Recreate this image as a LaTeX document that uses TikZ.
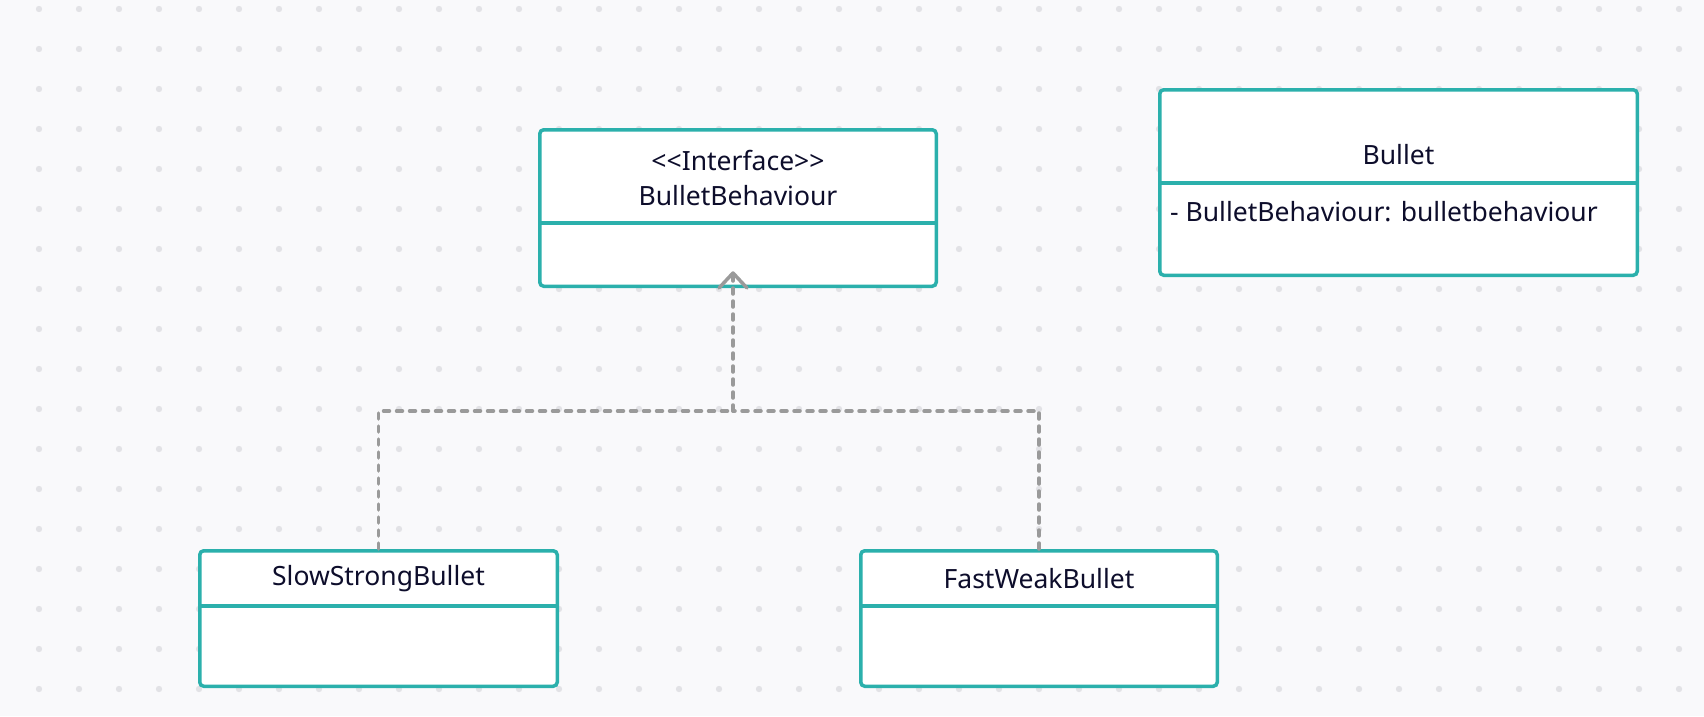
\documentclass[tikz,border=0pt]{standalone}
\usepackage{fontspec}
\setmainfont{Noto Sans}
\usetikzlibrary{arrows.meta}
\definecolor{bgcol}{HTML}{F9F9FB}
\definecolor{dotcol}{HTML}{E2E2E6}
\definecolor{teal}{HTML}{2BB0AC}
\definecolor{txt}{HTML}{0D0D2B}
\definecolor{conn}{HTML}{9A9A9A}
\tikzset{
  classbox/.style={draw=teal, fill=white, line width=3.5pt, rounded corners=4pt, inner sep=0pt},
  divider/.style={draw=teal, line width=3.5pt},
  lbl/.style={text=txt, font=\fontsize{26.5}{31}\selectfont, inner sep=0pt},
  realize/.style={draw=conn, line width=3.5pt, line cap=round, dash pattern=on 6pt off 7pt},
  chev/.style={draw=conn, line width=3.5pt, line cap=round, line join=round},
}
\begin{document}
\begin{tikzpicture}[x=1pt,y=-1pt]
\fill[bgcol] (0,0) rectangle (1704,716);
\useasboundingbox (0,0) rectangle (1704,716);
\foreach \i in {0,...,42} {
  \foreach \j in {0,...,17} {
    \fill[dotcol] (39+40*\i, 9+40*\j) circle (3.2);
  }
}
% BulletBehaviour
\node[classbox, minimum width=396.5pt, minimum height=156.5pt] (bb) at (738,208) {};
\draw[divider] (bb.west |- 0,223) -- (bb.east |- 0,223);
\node[lbl] (bbst) at (738,160) {<\kern0pt<Interface>\kern0pt>};
\node[lbl] (bbname) at (738,196) {BulletBehaviour};
% Bullet
\node[classbox, minimum width=477.5pt, minimum height=185.5pt] (bu) at (1398.5,182.5) {};
\draw[divider] (bu.west |- 0,183) -- (bu.east |- 0,183);
\node[lbl] (buname) at (1398.5,155) {Bullet};
\node[lbl, anchor=west] (buattr) at (1170,212) {- BulletBehaviour: bulletbehaviour};
% SlowStrongBullet
\node[classbox, minimum width=357.5pt, minimum height=135.5pt] (sl) at (378.5,618.5) {};
\draw[divider] (sl.west |- 0,606) -- (sl.east |- 0,606);
\node[lbl] (slname) at (378.5,579) {SlowStrongBullet};
% FastWeakBullet
\node[classbox, minimum width=356.5pt, minimum height=135.5pt] (fw) at (1039,618.5) {};
\draw[divider] (fw.west |- 0,606) -- (fw.east |- 0,606);
\node[lbl] (fwname) at (1039,579) {FastWeakBullet};
% realization connectors
\coordinate (jn) at (733,411);
\coordinate (tip) at (733,273);
\draw[realize] (sl.north) |- (jn);
\draw[realize] (fw.north) |- (jn);
\draw[realize] (jn) -- (tip);
\draw[chev] ([shift={(-14,15)}]tip) -- (tip) -- ([shift={(14,15)}]tip);
\end{tikzpicture}
\end{document}
